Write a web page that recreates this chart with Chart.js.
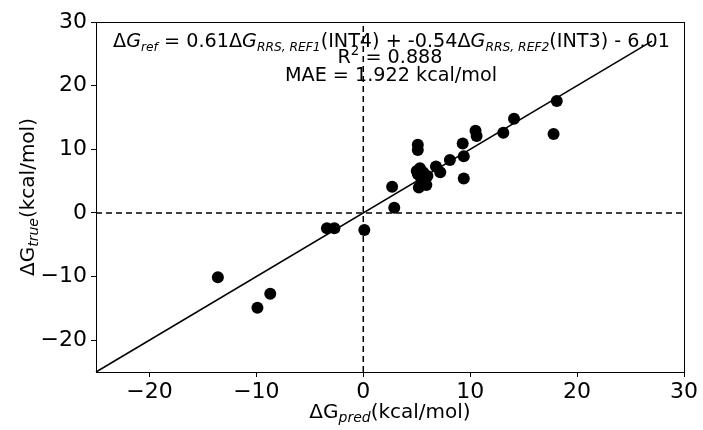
<!DOCTYPE html>
<html>
<head>
<meta charset="utf-8">
<script src="https://cdn.jsdelivr.net/npm/chart.js@4/dist/chart.umd.min.js"></script>
<style>
  html, body { margin: 0; padding: 0; background: #fff; }
  #wrap { width: 703px; height: 430px; position: relative; }
</style>
</head>
<body>
<div id="wrap"><canvas id="c" width="703" height="430"></canvas></div>
<script>
// ---- data ----
const predValues = [-13.6, -9.9, -8.7, -3.4, -2.7, 0.1, 2.7, 2.9, 5.1, 5.1, 5.3, 5.1, 5.4, 6.0, 5.2, 5.9, 5.6, 5.0, 5.6, 6.8, 7.2, 8.1, 9.3, 9.4, 9.4, 10.5, 10.6, 13.1, 14.1, 17.8, 18.1];
const trueValues = [-10.1, -14.9, -12.7, -2.4, -2.4, -2.7, 4.1, 0.8, 10.7, 9.9, 7.0, 6.1, 5.5, 5.8, 4.0, 4.4, 5.0, 6.6, 6.4, 7.3, 6.4, 8.3, 10.9, 8.9, 5.4, 12.9, 12.1, 12.6, 14.8, 12.4, 17.6];
const identityX = [-25, 27];
const identityY = [-25, 27];
const zeroLineX = [-25, 30];
const zeroLineY = [0, 0];
const axisRange = [-25, 30];
const xTicks = [-20, -10, 0, 10, 20, 30];
const yTicks = [-20, -10, 0, 10, 20, 30];
const annotationR2 = '0.888';
const annotationMAE = '1.922';

const FONT = "'DejaVu Sans', sans-serif";

const toPts = (xs, ys) => xs.map((x, i) => ({ x: x, y: ys[i] }));

// draw runs of [text, isSub, italic]
function drawRuns(ctx, runs, cx, baseY, size, subRatio) {
  const subSize = size * (subRatio || 0.7);
  let total = 0;
  const widths = runs.map(r => {
    ctx.font = (r[2] ? 'italic ' : '') + (r[1] ? subSize : size) + 'px ' + FONT;
    const w = ctx.measureText(r[0]).width;
    total += w;
    return w;
  });
  let x = cx - total / 2;
  runs.forEach((r, i) => {
    ctx.font = (r[2] ? 'italic ' : '') + (r[1] ? subSize : size) + 'px ' + FONT;
    ctx.fillText(r[0], x, r[1] ? baseY + size * 0.22 : baseY);
    x += widths[i];
  });
}

const textPlugin = {
  id: 'texts',
  afterDraw(chart) {
    const ctx = chart.ctx;
    const a = chart.chartArea;
    ctx.save();
    // frame
    ctx.strokeStyle = '#000';
    ctx.lineWidth = 1;
    ctx.strokeRect(a.left + 0.5, a.top + 0.5, a.right - a.left, a.bottom - a.top);
    ctx.fillStyle = '#000';
    ctx.textBaseline = 'alphabetic';
    ctx.textAlign = 'left';
    const cx = (a.left + a.right) / 2;
    // annotation
    drawRuns(ctx, [
      ['Δ', false, false], ['G', false, true], ['ref', true, true],
      [' = 0.61Δ', false, false], ['G', false, true], ['RRS, REF1', true, true],
      ['(INT4) + -0.54Δ', false, false], ['G', false, true], ['RRS, REF2', true, true],
      ['(INT3) - 6.01', false, false]
    ], cx + 1.5, 47, 19.2, 0.64);
    // R^2
    const big = '19.2px ' + FONT, small = '13.4px ' + FONT;
    const r1 = 'R', r2 = ' = ' + annotationR2;
    ctx.font = big;
    const wR = ctx.measureText(r1).width;
    const wR2 = ctx.measureText(r2).width;
    ctx.font = small;
    const wSup = ctx.measureText('2').width;
    let sx = cx - (wR + wSup + wR2) / 2;
    ctx.font = big;
    ctx.fillText(r1, sx, 63);
    ctx.font = small;
    ctx.fillText('2', sx + wR, 55);
    ctx.font = big;
    ctx.fillText(r2, sx + wR + wSup, 63);
    // MAE
    ctx.textAlign = 'center';
    ctx.fillText('MAE = ' + annotationMAE + ' kcal/mol', cx + 1, 81);
    ctx.textAlign = 'left';
    // x title
    drawRuns(ctx, [['ΔG', false, false], ['pred', true, true], ['(kcal/mol)', false, false]], cx, 418, 20);
    // y title
    ctx.save();
    ctx.translate(34, (a.top + a.bottom) / 2);
    ctx.rotate(-Math.PI / 2);
    drawRuns(ctx, [['ΔG', false, false], ['true', true, true], ['(kcal/mol)', false, false]], 0, 0, 20);
    ctx.restore();
    ctx.restore();
  }
};

const tickFmt = v => String(v).replace('-', '\u2212');

new Chart(document.getElementById('c'), {
  type: 'scatter',
  data: {
    datasets: [
      {
        type: 'line', data: toPts(zeroLineX, zeroLineY), borderColor: '#000', borderWidth: 1.5,
        borderDash: [6, 4], pointRadius: 0, fill: false
      },
      {
        type: 'line', data: toPts(zeroLineY, zeroLineX), borderColor: '#000', borderWidth: 1.5,
        borderDash: [6, 4], pointRadius: 0, fill: false
      },
      {
        type: 'line', data: toPts(identityX, identityY), borderColor: '#000', borderWidth: 1.5,
        pointRadius: 0, fill: false
      },
      {
        data: toPts(predValues, trueValues), backgroundColor: '#000', borderColor: '#000',
        pointRadius: 6, pointHoverRadius: 6, borderWidth: 0
      }
    ]
  },
  options: {
    responsive: false,
    animation: false,
    events: [],
    clip: false,
    layout: { padding: { left: 0, right: 19, top: 22, bottom: 0 } },
    plugins: { legend: { display: false }, tooltip: { enabled: false } },
    scales: {
      x: {
        type: 'linear', min: axisRange[0], max: axisRange[1],
        afterBuildTicks: s => { s.ticks = xTicks.map(v => ({ value: v })); },
        afterFit: s => { s.height = 58; },
        grid: { drawOnChartArea: false, tickLength: 5, color: '#000', tickColor: '#000' },
        border: { display: true, color: '#000', width: 1 },
        ticks: { color: '#000', font: { family: FONT, size: 22 }, padding: 2, callback: tickFmt, maxRotation: 0 },
        title: { display: false }
      },
      y: {
        type: 'linear', min: axisRange[0], max: axisRange[1],
        afterBuildTicks: s => { s.ticks = yTicks.map(v => ({ value: v })); },
        afterFit: s => { s.width = 96; },
        grid: { drawOnChartArea: false, tickLength: 5, color: '#000', tickColor: '#000' },
        border: { display: true, color: '#000', width: 1 },
        ticks: { color: '#000', font: { family: FONT, size: 22 }, padding: 4, callback: tickFmt },
        title: { display: false }
      }
    }
  },
  plugins: [textPlugin]
});
</script>
</body>
</html>
